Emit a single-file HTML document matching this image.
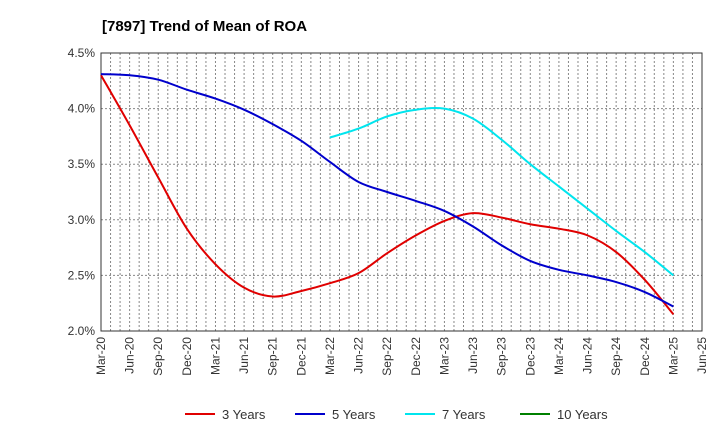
<!DOCTYPE html>
<html><head><meta charset="utf-8"><style>body{margin:0;background:#fff;font-family:"Liberation Sans",sans-serif}</style></head>
<body>
<svg id="c" width="720" height="440" xmlns="http://www.w3.org/2000/svg">
<text x="102" y="31" font-size="15" font-weight="bold" fill="#000">[7897]  Trend of Mean of ROA</text>
<g id="grid"></g>
<g id="axes"></g>
<g id="series"></g>
<g id="legend"></g>
</svg>
<script>
const xLabels=["Mar-20","Jun-20","Sep-20","Dec-20","Mar-21","Jun-21","Sep-21","Dec-21","Mar-22","Jun-22","Sep-22","Dec-22","Mar-23","Jun-23","Sep-23","Dec-23","Mar-24","Jun-24","Sep-24","Dec-24","Mar-25","Jun-25"];
const yTicks=[2.0,2.5,3.0,3.5,4.0,4.5];
const s3=[4.3,3.85,3.38,2.92,2.6,2.39,2.31,2.36,2.43,2.52,2.7,2.86,2.99,3.06,3.02,2.96,2.92,2.86,2.71,2.46,2.15];
const s5=[4.31,4.30,4.26,4.17,4.09,3.99,3.86,3.71,3.52,3.34,3.25,3.17,3.08,2.94,2.77,2.63,2.55,2.5,2.44,2.35,2.22];
const s7=[3.74,3.82,3.93,3.99,4.0,3.91,3.72,3.5,3.3,3.1,2.9,2.71,2.5];
const s7Start=8;
const s10=[];
const L=101,R=702,T=53,B=331;
const ns="http://www.w3.org/2000/svg";
const X=i=>L+(R-L)*i/21, Y=v=>T+(4.5-v)/2.5*(B-T);
function mk(t,a,p){const e=document.createElementNS(ns,t);for(const k in a)e.setAttribute(k,a[k]);p.appendChild(e);return e;}
const g=document.getElementById('grid'),ax=document.getElementById('axes'),sr=document.getElementById('series'),lg=document.getElementById('legend');
for(let m=1;m<63;m++){const x=L+(R-L)*m/63;const l=mk('line',{x1:x,x2:x,y1:T,y2:B,stroke:'#888','stroke-dasharray':'2,2','stroke-width':1},g);
}
yTicks.forEach(v=>{const y=Y(v);const l=mk('line',{x1:L,x2:R,y1:y,y2:y,stroke:'#888','stroke-dasharray':'2,2'},g);

const t=mk('text',{x:L-6,y:y+4,'text-anchor':'end','font-size':12,fill:'#333'},ax);t.textContent=v.toFixed(1)+'%';
});
const fr=mk('rect',{x:L,y:T,width:R-L,height:B-T,fill:'none',stroke:'#333'},ax);

xLabels.forEach((s,i)=>{const x=X(i);const t=mk('text',{x:x+4,y:B+6,'text-anchor':'end','font-size':12,fill:'#333',transform:`rotate(-90 ${x+4} ${B+6})`},ax);t.textContent=s;
});
function path(vals,start){const p=vals.map((v,i)=>[X(i+start),Y(v)]);if(p.length<2)return '';let d=`M${p[0][0]},${p[0][1]}`;
for(let i=0;i<p.length-1;i++){const p0=p[i-1]||p[i],p1=p[i],p2=p[i+1],p3=p[i+2]||p2;
d+=` C${p1[0]+(p2[0]-p0[0])/6},${p1[1]+(p2[1]-p0[1])/6} ${p2[0]-(p3[0]-p1[0])/6},${p2[1]-(p3[1]-p1[1])/6} ${p2[0]},${p2[1]}`;}return d;}
const series=[["3 Years",s3,0,'#e00000','series-3-years'],["5 Years",s5,0,'#0000cc','series-5-years'],["7 Years",s7,s7Start,'#00e5ee','series-7-years'],["10 Years",s10,0,'#008000','series-10-years']];
const lx=[185,295,405,520];
series.forEach((s,k)=>{const d=path(s[1],s[2]);if(d){const e=mk('path',{d,fill:'none',stroke:s[3],'stroke-width':2},sr);
}
const l=mk('line',{x1:lx[k],x2:lx[k]+30,y1:414,y2:414,stroke:s[3],'stroke-width':2},lg);

const t=mk('text',{x:lx[k]+37,y:419,'font-size':13,fill:'#333'},lg);t.textContent=s[0];
});
</script>
</body></html>
